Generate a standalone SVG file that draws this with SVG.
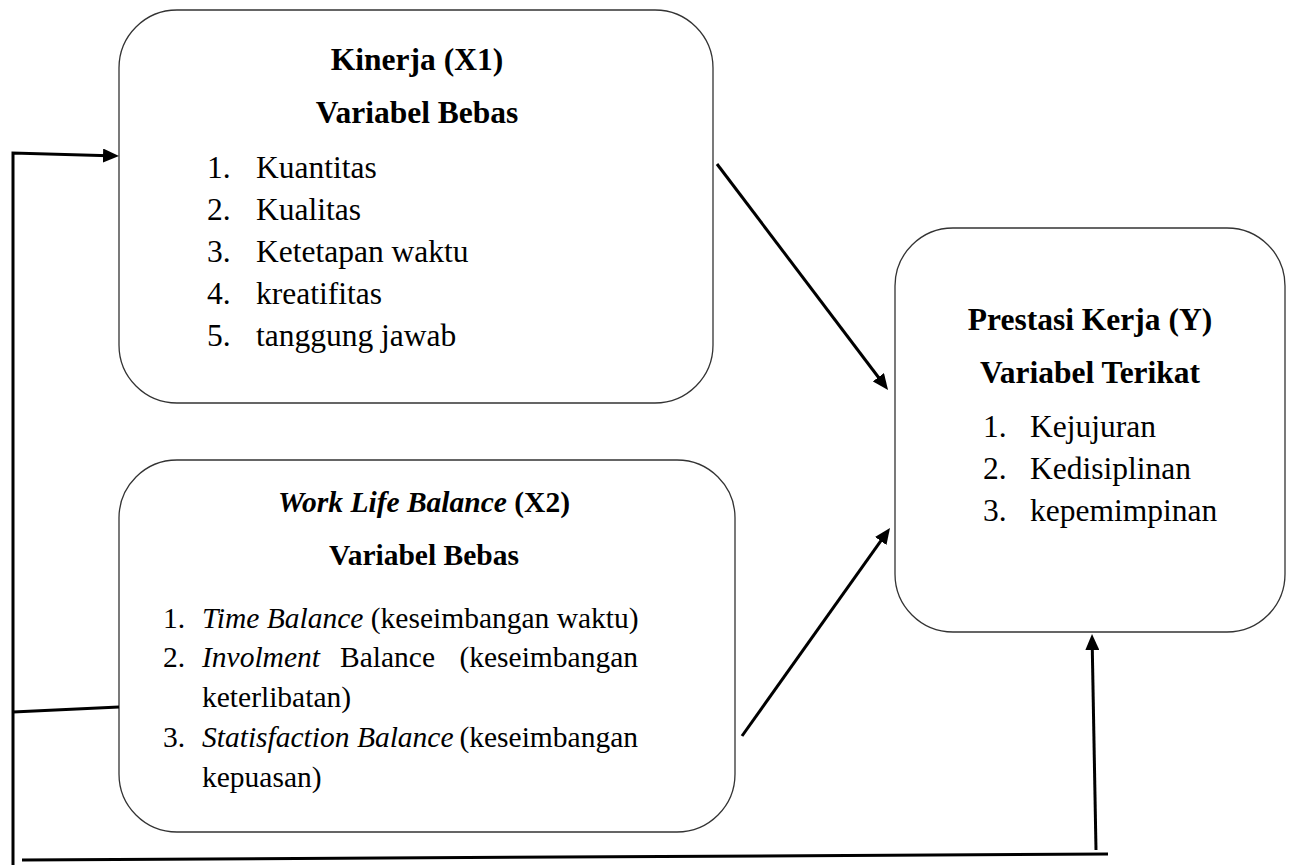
<svg xmlns="http://www.w3.org/2000/svg" width="1296" height="865" viewBox="0 0 1296 865">
<style>
.box{fill:#fff;stroke:#333;stroke-width:1.3}
.t{font-family:"Liberation Serif","Times New Roman",serif;fill:#000}
.b{font-weight:bold}
.i{font-style:italic}
.mid{text-anchor:middle}
.end{text-anchor:end}
.f1{font-size:31.5px}
.f2{font-size:29.5px}
.c{fill:none;stroke:#000;stroke-width:3}
</style>
<defs>
<marker id="ah" markerUnits="userSpaceOnUse" markerWidth="16" markerHeight="14" refX="6" refY="7" orient="auto" viewBox="0 0 16 14">
<path d="M0,0 L16,7 L0,14 z" fill="#000"/>
</marker>
</defs>
<rect width="1296" height="865" fill="#fff"/>
<g id="node-kinerja">
<rect class="box" x="119" y="10" width="594" height="393" rx="58" ry="58"/>
<text class="t b f1 mid" x="417" y="70">Kinerja (X1)</text>
<text class="t b f1 mid" x="417" y="123">Variabel Bebas</text>
<text class="t f1" x="207" y="178">1.</text><text class="t f1" x="256" y="178">Kuantitas</text>
<text class="t f1" x="207" y="220">2.</text><text class="t f1" x="256" y="220">Kualitas</text>
<text class="t f1" x="207" y="262">3.</text><text class="t f1" x="256" y="262">Ketetapan waktu</text>
<text class="t f1" x="207" y="304">4.</text><text class="t f1" x="256" y="304">kreatifitas</text>
<text class="t f1" x="207" y="346">5.</text><text class="t f1" x="256" y="346">tanggung jawab</text>
</g>
<g id="node-wlb">
<rect class="box" x="119" y="460" width="616" height="372" rx="58" ry="58"/>
<text class="t b f2 mid" x="424" y="512"><tspan class="i">Work Life Balance</tspan> (X2)</text>
<text class="t b f2 mid" x="424" y="565">Variabel Bebas</text>
<text class="t f2" x="163" y="628">1.</text><text class="t f2" x="202" y="628"><tspan class="i">Time Balance</tspan> (keseimbangan waktu)</text>
<text class="t f2" x="163" y="667">2.</text><text class="t f2 i" x="202" y="667">Involment</text><text class="t f2" x="340" y="667">Balance</text><text class="t f2 end" x="638" y="667">(keseimbangan</text>
<text class="t f2" x="202" y="707">keterlibatan)</text>
<text class="t f2" x="163" y="747">3.</text><text class="t f2 i" x="202" y="747">Statisfaction Balance</text><text class="t f2 end" x="638" y="747">(keseimbangan</text>
<text class="t f2" x="202" y="787">kepuasan)</text>
</g>
<g id="node-prestasi">
<rect class="box" x="895" y="228" width="390" height="404" rx="58" ry="58"/>
<text class="t b f1 mid" x="1090" y="330">Prestasi Kerja (Y)</text>
<text class="t b f1 mid" x="1090" y="383">Variabel Terikat</text>
<text class="t f1" x="983" y="437">1.</text><text class="t f1" x="1030" y="437">Kejujuran</text>
<text class="t f1" x="983" y="479">2.</text><text class="t f1" x="1030" y="479">Kedisiplinan</text>
<text class="t f1" x="983" y="521">3.</text><text class="t f1" x="1030" y="521">kepemimpinan</text>
</g>
<g id="connectors">
<path class="c" d="M13,866 L13,153 L109,155.7" marker-end="url(#ah)"/>
<path class="c" d="M13,712 L119,707"/>
<path class="c" d="M22,860 L1108,854"/>
<path class="c" d="M717,164 L882,382" marker-end="url(#ah)"/>
<path class="c" d="M742,736 L884.2,536.1" marker-end="url(#ah)"/>
<path class="c" d="M1096,850 L1092.2,644" marker-end="url(#ah)"/>
</g>
</svg>
